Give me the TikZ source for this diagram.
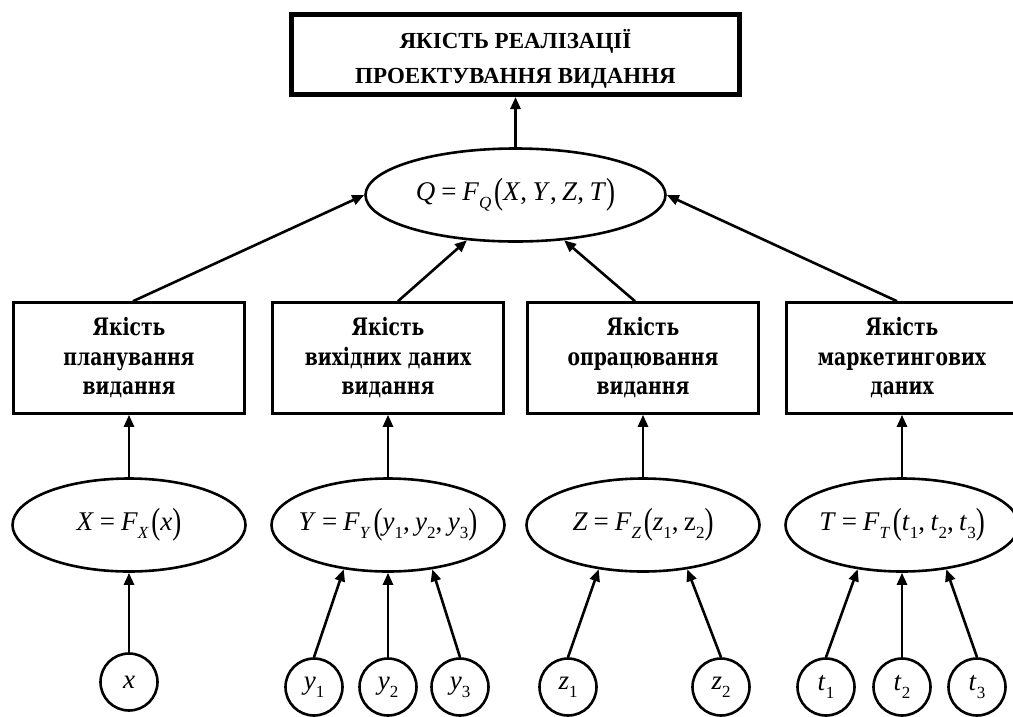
\documentclass[tikz,border=0pt]{standalone}
\usepackage{fontspec}
\setmainfont{Liberation Serif}
\newfontfamily\boxfont{DejaVu Serif}[FakeStretch=0.78]
\usepackage{graphicx}
\usetikzlibrary{arrows.meta,shapes.geometric}

\newcommand{\iv}[1]{\textit{#1}}
\newcommand{\zb}[1]{\makebox[0pt]{#1}}
\newcommand{\sbx}[1]{\raisebox{-0.3em}{\fontsize{17}{17}\selectfont #1}}
\newcommand{\eqs}{\hspace{0.22em}=\hspace{0.22em}}
\newcommand{\lpar}{\hspace{0.1em}\raisebox{-0.13em}{\scalebox{1}[1.35]{(}}}
\newcommand{\rpar}{\raisebox{-0.13em}{\scalebox{1}[1.35]{)}}}
\newcommand{\cm}{,\hspace{0.2em}}

\tikzset{
  topbox/.style={draw, line width=5pt, rectangle, minimum width=448pt, minimum height=80pt,
    inner sep=0pt},
  toptext/.style={align=center, inner sep=0pt, font=\bfseries\fontsize{23}{35}\selectfont},
  lblbox/.style={draw, line width=2.6pt, rectangle, minimum width=231pt, minimum height=111pt,
    align=center, inner sep=0pt, font=\boxfont\bfseries\fontsize{24}{29.5}\selectfont},
  ell/.style={draw, line width=2.6pt, ellipse, minimum width=233pt, minimum height=93pt,
    inner sep=0pt, font=\fontsize{27}{30}\selectfont},
  circ/.style={draw, circle, line width=2.6pt, minimum size=57pt, inner sep=0pt,
    font=\fontsize{27}{30}\selectfont},
  arr/.style={line width=2.6pt, -{Triangle[length=12pt,width=10pt]}}
}

\begin{document}
\begin{tikzpicture}[x=1pt,y=-1pt]
\useasboundingbox (0,0) rectangle (1013,716);

\node[topbox] (top) at (515.5,54.5) {};
\node[toptext] (toptxt) at (515.5,59) {ЯКІСТЬ РЕАЛІЗАЦІЇ\\ПРОЕКТУВАННЯ ВИДАННЯ};
\node[ell, minimum width=300pt] (Q) at (515.5,195)
  {\zb{\iv{Q}\eqs\iv{F}\sbx{\iv{Q}}\lpar\iv{X}\cm\iv{Y}\cm\iv{Z}\cm\iv{T}\rpar}};

\node[lblbox] (b1) at (129,358) {Якість\\планування\\видання};
\node[lblbox] (b2) at (388,358) {Якість\\вихідних даних\\видання};
\node[lblbox] (b3) at (643,358) {Якість\\опрацювання\\видання};
\node[lblbox] (b4) at (902,358) {Якість\\маркетингових\\даних};

\node[ell] (e1) at (129,525) {\zb{\iv{X}\eqs\iv{F}\sbx{\iv{X}}\lpar\iv{x}\rpar}};
\node[ell] (e2) at (388,525) {\zb{\iv{Y}\eqs\iv{F}\sbx{\iv{Y}}\lpar\iv{y}\sbx{1}\cm\iv{y}\sbx{2}\cm\iv{y}\sbx{3}\rpar}};
\node[ell] (e3) at (643,525) {\zb{\iv{Z}\eqs\iv{F}\sbx{\iv{Z}}\lpar\iv{z}\sbx{1}\cm z\sbx{2}\rpar}};
\node[ell] (e4) at (902,525) {\zb{\iv{T}\eqs\iv{F}\sbx{\iv{T}}\lpar\iv{t}\sbx{1}\cm\iv{t}\sbx{2}\cm\iv{t}\sbx{3}\rpar}};

\node[circ] (cx) at (129,682) {\iv{x}};
\node[circ] (y1) at (314,687) {\iv{y}\sbx{1}};
\node[circ] (y2) at (388,687) {\iv{y}\sbx{2}};
\node[circ] (y3) at (460,687) {\iv{y}\sbx{3}};
\node[circ] (z1) at (568,687) {\iv{z}\sbx{1}};
\node[circ] (z2) at (721,687) {\iv{z}\sbx{2}};
\node[circ] (t1) at (826,687) {\iv{t}\sbx{1}};
\node[circ] (t2) at (902,687) {\iv{t}\sbx{2}};
\node[circ] (t3) at (977,687) {\iv{t}\sbx{3}};

\draw[arr] (Q.north) -- (top.south);
\draw[arr] ([xshift=4pt]b1.north) -- (Q.west);
\draw[arr] ([xshift=10pt]b2.north) -- (Q.223);
\draw[arr] ([xshift=-8pt]b3.north) -- (Q.317);
\draw[arr] ([xshift=-5pt]b4.north) -- (Q.east);

\draw[arr] (e1.north) -- (b1.south);
\draw[arr] (e2.north) -- (b2.south);
\draw[arr] (e3.north) -- (b3.south);
\draw[arr] (e4.north) -- (b4.south);

\draw[arr] (cx.north) -- (e1.south);
\draw[arr] (y1.north) -- (e2.225);
\draw[arr] (y2.north) -- (e2.south);
\draw[arr] (y3.north) -- (e2.315);
\draw[arr] (z1.north) -- (e3.225);
\draw[arr] (z2.north) -- (e3.315);
\draw[arr] (t1.north) -- (e4.225);
\draw[arr] (t2.north) -- (e4.south);
\draw[arr] (t3.north) -- (e4.315);
\end{tikzpicture}
\end{document}
